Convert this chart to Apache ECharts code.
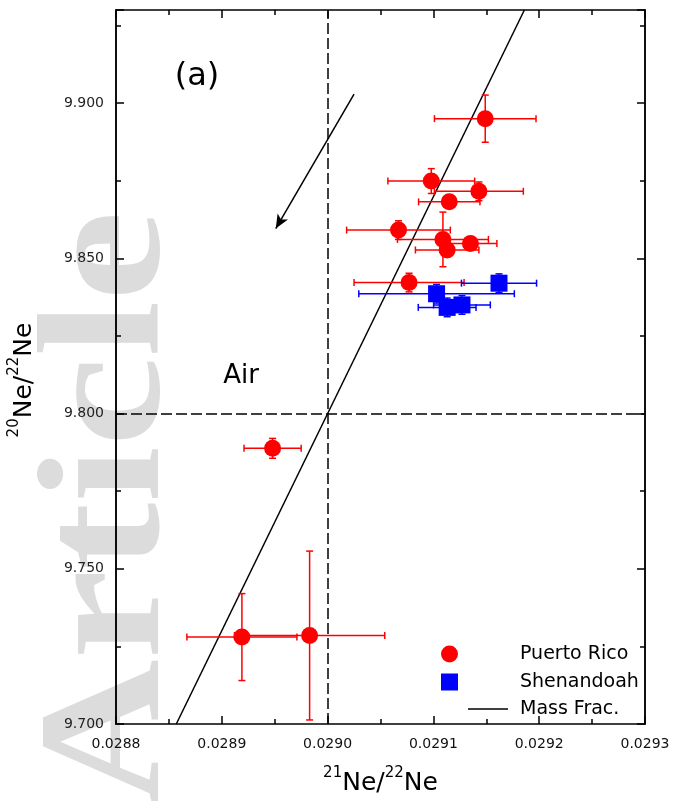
<!DOCTYPE html>
<html>
<head>
<meta charset="utf-8">
<script src="https://cdn.jsdelivr.net/npm/echarts@6/dist/echarts.min.js"></script>
<style>
  html, body { margin: 0; padding: 0; background: #fff; }
  #chart { width: 673px; height: 801px; }
</style>
</head>
<body>
<div id="chart"></div>
<script>
// 21Ne/22Ne (x) and 20Ne/22Ne (y) with 1-sigma uncertainties
const puertoRicoX    = [0.029149, 0.029098, 0.029143, 0.029115, 0.029067, 0.029109, 0.029113, 0.029135, 0.029077, 0.028948, 0.028919, 0.028983];
const puertoRicoY    = [9.8950, 9.8749, 9.8716, 9.8682, 9.8591, 9.8561, 9.8527, 9.8548, 9.8422, 9.7888, 9.7280, 9.7285];
const puertoRicoXErr = [0.000048, 0.000041, 0.000042, 0.000029, 0.000049, 0.000043, 0.000030, 0.000025, 0.000052, 0.000027, 0.000052, 0.000071];
const puertoRicoYErr = [0.0076, 0.0040, 0.0030, 0.0015, 0.0030, 0.0088, 0.0015, 0.0015, 0.0030, 0.0032, 0.0140, 0.0272];

const shenandoahX    = [0.029162, 0.029103, 0.029113, 0.029127];
const shenandoahY    = [9.8420, 9.8386, 9.8342, 9.8350];
const shenandoahXErr = [0.0000355, 0.0000735, 0.0000273, 0.0000268];
const shenandoahYErr = [0.0030, 0.0030, 0.0030, 0.0030];

// mass-fractionation line through air, end points at the frame edges
const massFracX = [0.028857, 0.029186];
const massFracY = [9.700, 9.930];

// air composition
const airX = 0.0290;
const airY = 9.800;

// direction arrow
const arrowFrom = [0.029025, 9.9029];
const arrowTo   = [0.028951, 9.8596];

// axes
const xMin = 0.0288, xMax = 0.0293, xStep = 0.0001;
const yMin = 9.700, yMax = 9.930, yStep = 0.05, yMinorStep = 0.025;

const FONT = 'DejaVu Sans';
const RED = '#ff0000', BLUE = '#0000ff';

function rows(xs, ys, exs, eys) {
  return xs.map((x, i) => [x, ys[i], exs ? exs[i] : 0, eys ? eys[i] : 0]);
}

function errorBars(color) {
  return function (params, api) {
    const x = api.value(0), y = api.value(1), ex = api.value(2), ey = api.value(3);
    const c = api.coord([x, y]);
    const l = api.coord([x - ex, y]), r = api.coord([x + ex, y]);
    const t = api.coord([x, y + ey]), b = api.coord([x, y - ey]);
    const cap = 3.5;
    const style = { stroke: color, lineWidth: 1.5, fill: null };
    return {
      type: 'group',
      children: [
        { type: 'line', shape: { x1: l[0], y1: c[1], x2: r[0], y2: c[1] }, style },
        { type: 'line', shape: { x1: l[0], y1: c[1] - cap, x2: l[0], y2: c[1] + cap }, style },
        { type: 'line', shape: { x1: r[0], y1: c[1] - cap, x2: r[0], y2: c[1] + cap }, style },
        { type: 'line', shape: { x1: c[0], y1: t[1], x2: c[0], y2: b[1] }, style },
        { type: 'line', shape: { x1: c[0] - cap, y1: t[1], x2: c[0] + cap, y2: t[1] }, style },
        { type: 'line', shape: { x1: c[0] - cap, y1: b[1], x2: c[0] + cap, y2: b[1] }, style }
      ]
    };
  };
}

const axisLineStyle = { color: '#000', width: 1.5 };
const supRich = {
  ne: { fontFamily: FONT, fontSize: 25, color: '#000', lineHeight: 30, verticalAlign: 'bottom' },
  sup: { fontFamily: FONT, fontSize: 15, color: '#000', lineHeight: 30, verticalAlign: 'top' }
};

function xAxisDef(pos, withLabels) {
  return {
    type: 'value', position: pos, min: xMin, max: xMax, interval: xStep,
    axisLine: { show: true, onZero: false, lineStyle: axisLineStyle },
    axisTick: { show: true, inside: true, length: 8, lineStyle: { color: '#000', width: 1.5 } },
    minorTick: { show: true, splitNumber: 2, length: 5, lineStyle: { color: '#000', width: 1.5 } },
    splitLine: { show: false },
    axisLabel: withLabels ? {
      show: true, margin: 13, color: '#111', fontFamily: FONT, fontSize: 14,
      formatter: v => v.toFixed(4)
    } : { show: false },
    name: withLabels ? '{sup|21}{ne|Ne/}{sup|22}{ne|Ne}' : '',
    nameLocation: 'middle', nameGap: 42,
    nameTextStyle: { rich: supRich }
  };
}

function yAxisDef(pos, step, tickLen, withLabels) {
  return {
    type: 'value', position: pos, min: yMin, max: yMax, interval: step,
    axisLine: { show: true, onZero: false, lineStyle: axisLineStyle },
    axisTick: { show: true, inside: true, length: tickLen, lineStyle: { color: '#000', width: 1.5 } },
    splitLine: { show: false },
    axisLabel: withLabels ? {
      show: true, margin: 12, color: '#222', fontFamily: FONT, fontSize: 14,
      formatter: v => (Math.abs(v / yStep - Math.round(v / yStep)) < 1e-6 ? v.toFixed(3) : '')
    } : { show: false }
  };
}

const chart = echarts.init(document.getElementById('chart'), null, { renderer: 'canvas' });

chart.setOption({
  backgroundColor: '#fff',
  animation: false,
  grid: { left: 116, right: 28, top: 10, bottom: 73, containLabel: false },
  xAxis: [xAxisDef('bottom', true), xAxisDef('top', false)],
  yAxis: [
    yAxisDef('left', yStep, 8, true),
    yAxisDef('left', yMinorStep, 5, false),
    yAxisDef('right', yStep, 8, false),
    yAxisDef('right', yMinorStep, 5, false)
  ],
  legend: [
    {
      data: [{ name: 'Puerto Rico', icon: 'circle' }, { name: 'Shenandoah', icon: 'rect' }],
      orient: 'vertical', left: 441, top: 644, padding: 0,
      itemWidth: 17, itemHeight: 17, itemGap: 8,
      selectedMode: false,
      textStyle: { fontFamily: FONT, fontSize: 19, color: '#000', lineHeight: 20, padding: [0, 0, 0, 57] }
    },
    {
      data: [{ name: 'Mass Frac.', icon: 'rect' }],
      orient: 'vertical', left: 468, top: 699, padding: 0,
      itemWidth: 40, itemHeight: 1.5,
      selectedMode: false,
      textStyle: { fontFamily: FONT, fontSize: 19, color: '#000', lineHeight: 20, padding: [0, 0, 0, 7] }
    }
  ],
  graphic: [
    {
      type: 'text', z: -10,
      x: 26, y: 805, rotation: Math.PI / 2, scaleX: 1.16, scaleY: 1,
      style: {
        text: 'Article', fill: '#dcdcdc',
        font: 'bold 174px "Liberation Serif", serif'
      }
    },
    {
      type: 'text', x: 22, y: 380, rotation: Math.PI / 2,
      style: {
        text: '{sup|20}{ne|Ne/}{sup|22}{ne|Ne}',
        rich: supRich, align: 'center', verticalAlign: 'middle'
      }
    },
    {
      type: 'text', x: 197, y: 77,
      style: { text: '(a)', font: '32px "DejaVu Sans"', fill: '#000', align: 'center', verticalAlign: 'middle' }
    },
    {
      type: 'text', x: 241, y: 376,
      style: { text: 'Air', font: '26px "DejaVu Sans"', fill: '#000', align: 'center', verticalAlign: 'middle' }
    }
  ],
  series: [
    {
      name: 'Air', type: 'line', data: [], silent: true,
      markLine: {
        silent: true, symbol: ['none', 'none'], label: { show: false },
        lineStyle: { color: '#000', width: 1.5, type: [11, 4] },
        emphasis: { disabled: true },
        data: [
          [{ coord: [airX, yMin] }, { coord: [airX, yMax] }],
          [{ coord: [xMin, airY] }, { coord: [xMax, airY] }]
        ]
      }
    },
    {
      name: 'Mass Frac.', type: 'line', z: 3,
      data: massFracX.map((x, i) => [x, massFracY[i]]),
      symbol: 'none', showSymbol: false,
      lineStyle: { color: '#000', width: 1.5 },
      itemStyle: { color: '#000' },
      markLine: {
        silent: true, symbol: ['none', 'arrow'], symbolSize: [9, 14], label: { show: false },
        lineStyle: { color: '#000', width: 1.5, type: 'solid' },
        emphasis: { disabled: true },
        data: [[{ coord: arrowFrom }, { coord: arrowTo }]]
      }
    },
    {
      name: 'Puerto Rico errors', type: 'custom', z: 4,
      renderItem: errorBars(RED),
      encode: { x: 0, y: 1 },
      data: rows(puertoRicoX, puertoRicoY, puertoRicoXErr, puertoRicoYErr)
    },
    {
      name: 'Puerto Rico', type: 'scatter', z: 5,
      symbol: 'circle', symbolSize: 17,
      itemStyle: { color: RED, opacity: 1 },
      data: rows(puertoRicoX, puertoRicoY).map(r => [r[0], r[1]])
    },
    {
      name: 'Shenandoah errors', type: 'custom', z: 6,
      renderItem: errorBars(BLUE),
      encode: { x: 0, y: 1 },
      data: rows(shenandoahX, shenandoahY, shenandoahXErr, shenandoahYErr)
    },
    {
      name: 'Shenandoah', type: 'scatter', z: 7,
      symbol: 'rect', symbolSize: 17,
      itemStyle: { color: BLUE, opacity: 1 },
      data: rows(shenandoahX, shenandoahY).map(r => [r[0], r[1]])
    }
  ]
});
</script>
</body>
</html>
